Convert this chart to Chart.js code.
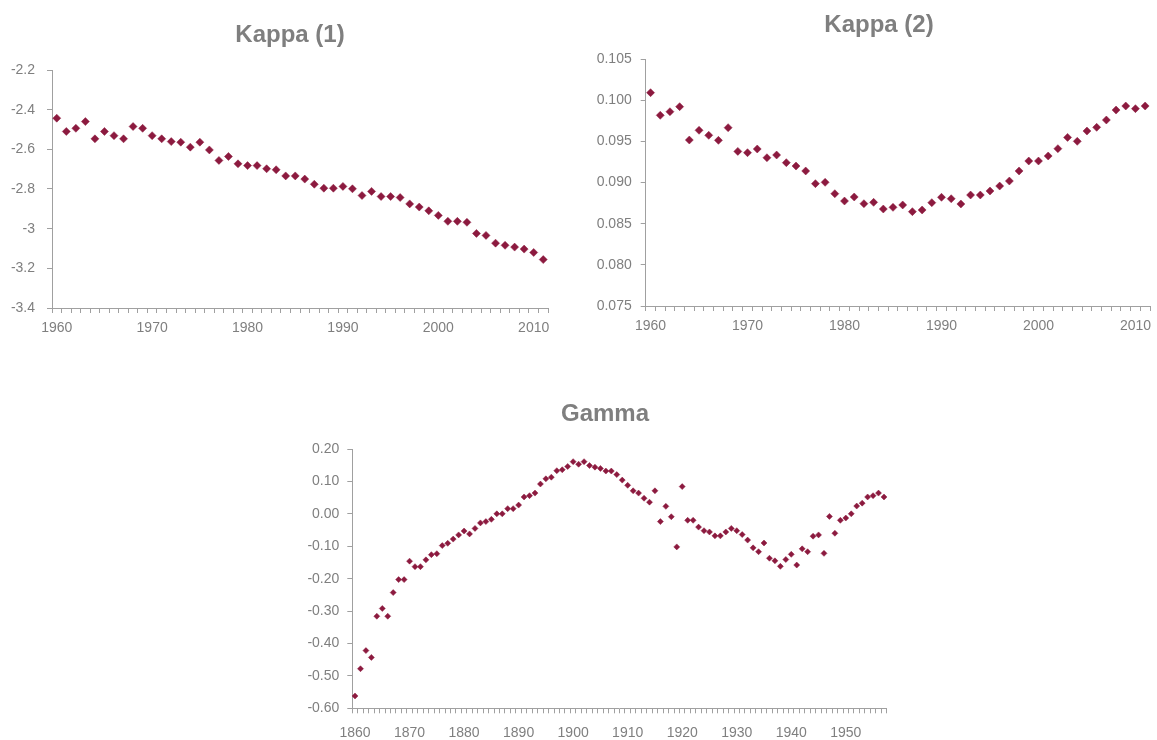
<!DOCTYPE html>
<html>
<head>
<meta charset="utf-8">
<script src="https://cdn.jsdelivr.net/npm/chart.js@4/dist/chart.umd.min.js"></script>
<style>
  body { margin: 0; background: #fff; }
  #page { position: relative; width: 1157px; height: 740px; overflow: hidden; }
  .box { position: absolute; }
</style>
</head>
<body>
<div id="page">
  <div class="box" style="left:0px;top:0px;width:560px;height:348px"><canvas id="kappa1"></canvas></div>
  <div class="box" style="left:580px;top:0px;width:577px;height:346px"><canvas id="kappa2"></canvas></div>
  <div class="box" style="left:280px;top:370px;width:640px;height:370px"><canvas id="gamma"></canvas></div>
</div>
<script>
function yearRange(from, to) {
  const out = [];
  for (let y = from; y <= to; y++) out.push(y);
  return out;
}

// categories
const kappaYears = yearRange(1960, 2011);
const gammaYears = yearRange(1860, 1957);

// x labels that are shown
const kappaYearLabels = [1960, 1970, 1980, 1990, 2000, 2010];
const gammaYearLabels = [1860, 1870, 1880, 1890, 1900, 1910, 1920, 1930, 1940, 1950];

// y tick labels
const kappa1Ticks = [-3.4, -3.2, -3, -2.8, -2.6, -2.4, -2.2];
const kappa2Ticks = [0.075, 0.080, 0.085, 0.090, 0.095, 0.100, 0.105];
const gammaTicks = [-0.6, -0.5, -0.4, -0.3, -0.2, -0.1, 0, 0.1, 0.2];

// series
const kappa1Values = [
  -2.443, -2.510, -2.494, -2.460, -2.547, -2.510, -2.531, -2.547, -2.485, -2.494,
  -2.531, -2.547, -2.561, -2.564, -2.589, -2.564, -2.603, -2.656, -2.636, -2.673,
  -2.682, -2.682, -2.698, -2.703, -2.734, -2.734, -2.750, -2.776, -2.796, -2.796,
  -2.787, -2.799, -2.833, -2.812, -2.838, -2.838, -2.843, -2.875, -2.891, -2.910,
  -2.933, -2.963, -2.963, -2.968, -3.024, -3.034, -3.073, -3.084, -3.093, -3.103,
  -3.120, -3.156
];

const kappa2Values = [
  0.10091, 0.09816, 0.09860, 0.09921, 0.09516, 0.09634, 0.09573, 0.09512, 0.09666, 0.09378,
  0.09362, 0.09407, 0.09301, 0.09334, 0.09241, 0.09200, 0.09140, 0.08986, 0.09002, 0.08864,
  0.08775, 0.08824, 0.08743, 0.08759, 0.08678, 0.08698, 0.08727, 0.08646, 0.08666, 0.08755,
  0.08820, 0.08803, 0.08739, 0.08848, 0.08848, 0.08897, 0.08957, 0.09018, 0.09140, 0.09261,
  0.09261, 0.09322, 0.09411, 0.09548, 0.09500, 0.09625, 0.09670, 0.09759, 0.09880, 0.09929,
  0.09897, 0.09929
];

const gammaValues = [
  -0.562, -0.478, -0.422, -0.443, -0.316, -0.292, -0.316, -0.243, -0.203, -0.203,
  -0.146, -0.163, -0.163, -0.142, -0.126, -0.123, -0.098, -0.091, -0.078, -0.065,
  -0.053, -0.062, -0.045, -0.028, -0.024, -0.017, 0.000, 0.000, 0.016, 0.016,
  0.027, 0.052, 0.056, 0.064, 0.092, 0.108, 0.113, 0.133, 0.136, 0.146,
  0.161, 0.153, 0.161, 0.149, 0.144, 0.140, 0.132, 0.132, 0.121, 0.104,
  0.088, 0.071, 0.064, 0.048, 0.036, 0.071, -0.024, 0.023, -0.009, -0.102,
  0.084, -0.020, -0.020, -0.041, -0.052, -0.056, -0.068, -0.068, -0.056, -0.045,
  -0.052, -0.064, -0.081, -0.105, -0.117, -0.090, -0.137, -0.145, -0.162, -0.141,
  -0.125, -0.158, -0.108, -0.117, -0.069, -0.065, -0.122, -0.008, -0.060, -0.020,
  -0.013, 0.000, 0.024, 0.033, 0.052, 0.056, 0.064, 0.052
];

const markerColor = '#8c1a3f';
const axisColor = '#a0a0a0';
const textColor = '#7f7f7f';

// moves the title so its centre sits at a given x inside the canvas
const titleCentre = {
  id: 'titleCentre',
  afterLayout(chart, args, opts) {
    const t = chart.titleBlock;
    if (!t || opts.x == null) return;
    const w = t.right - t.left;
    t.left = opts.x - w / 2;
    t.right = opts.x + w / 2;
  }
};

function makeChart(id, cfg) {
  const ctx = document.getElementById(id).getContext('2d');
  return new Chart(ctx, {
    type: 'line',
    data: {
      labels: cfg.labels,
      datasets: [{
        data: cfg.values,
        showLine: false,
        pointStyle: 'rectRot',
        pointRadius: cfg.radius,
        pointBorderWidth: 0.5,
        pointBackgroundColor: markerColor,
        pointBorderColor: markerColor
      }]
    },
    plugins: [titleCentre],
    options: {
      responsive: true,
      maintainAspectRatio: false,
      animation: false,
      events: [],
      layout: { padding: { left: 0, right: cfg.padRight, top: 0, bottom: 0 } },
      plugins: {
        legend: { display: false },
        tooltip: { enabled: false },
        titleCentre: { x: cfg.titleX },
        title: {
          display: true,
          text: cfg.title,
          color: textColor,
          font: { family: 'Liberation Sans', size: 24, weight: 'bold', lineHeight: 1.2 },
          padding: { top: cfg.titleTop, bottom: cfg.titleBottom }
        }
      },
      scales: {
        x: {
          type: 'category',
          offset: true,
          grid: { display: true, offset: true, drawOnChartArea: false, drawTicks: true, tickLength: 5, color: axisColor },
          border: { display: true, color: axisColor, width: 1 },
          ticks: {
            autoSkip: false,
            minRotation: 0,
            maxRotation: 0,
            padding: cfg.xPad,
            color: textColor,
            font: { family: 'Liberation Sans', size: 14 },
            callback: function (value) {
              const yr = this.getLabelForValue(value);
              return cfg.shownYears.includes(yr) ? String(yr) : '';
            }
          },
          afterFit: function (scale) { scale.height = cfg.xHeight; }
        },
        y: {
          min: cfg.ticks[0],
          max: cfg.ticks[cfg.ticks.length - 1],
          grid: { display: true, drawOnChartArea: false, drawTicks: true, tickLength: 5, color: axisColor },
          border: { display: true, color: axisColor, width: 1 },
          ticks: {
            padding: cfg.yPad,
            color: textColor,
            font: { family: 'Liberation Sans', size: 14 },
            callback: cfg.fmt
          },
          afterBuildTicks: function (scale) {
            scale.ticks = cfg.ticks.map(v => ({ value: v }));
          },
          afterFit: function (scale) { scale.width = cfg.yWidth; }
        }
      }
    }
  });
}

makeChart('kappa1', {
  title: 'Kappa (1)',
  labels: kappaYears,
  values: kappa1Values,
  ticks: kappa1Ticks,
  shownYears: kappaYearLabels,
  radius: 4,
  padRight: 12, yWidth: 52, titleX: 290,
  titleTop: 20.6, titleBottom: 20.6,
  xHeight: 40, xPad: 7, yPad: 12,
  fmt: v => String(+(+v).toFixed(1))
});

makeChart('kappa2', {
  title: 'Kappa (2)',
  labels: kappaYears,
  values: kappa2Values,
  ticks: kappa2Ticks,
  shownYears: kappaYearLabels,
  radius: 4,
  padRight: 7, yWidth: 65.7, titleX: 299,
  titleTop: 10.6, titleBottom: 19.6,
  xHeight: 40, xPad: 7, yPad: 9,
  fmt: v => (+v).toFixed(3)
});

makeChart('gamma', {
  title: 'Gamma',
  labels: gammaYears,
  values: gammaValues,
  ticks: gammaTicks,
  shownYears: gammaYearLabels,
  radius: 3,
  padRight: 33.3, yWidth: 72.3, titleX: 325,
  titleTop: 29.6, titleBottom: 20.6,
  xHeight: 31.7, xPad: 11, yPad: 8,
  fmt: v => {
    const s = (+v).toFixed(2);
    return s === '-0.00' ? '0.00' : s;
  }
});
</script>
</body>
</html>
